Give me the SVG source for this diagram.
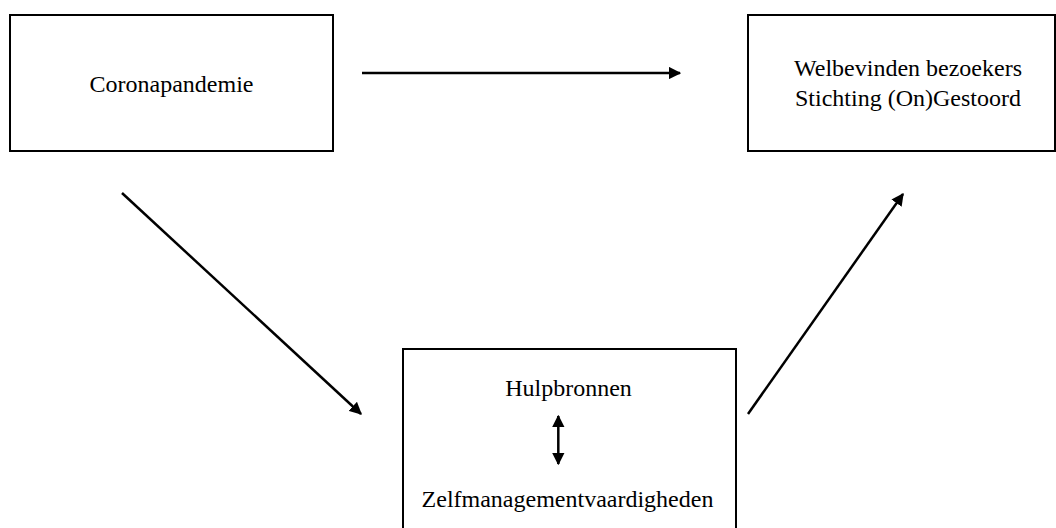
<svg xmlns="http://www.w3.org/2000/svg" width="1056" height="528" viewBox="0 0 1056 528">
<defs>
<style>
.box{fill:#fff;stroke:#000;stroke-width:2}
.lbl{font-family:"Liberation Serif","Times New Roman",serif;font-size:24px;fill:#000;text-anchor:middle}
.con{stroke:#000;stroke-width:2.5;fill:none}
</style>
<marker id="ah" viewBox="0 0 10 10" refX="9" refY="5" markerWidth="5" markerHeight="5" markerUnits="strokeWidth" orient="auto-start-reverse">
<path d="M0,0 L10,5 L0,10 z" fill="#000"/>
</marker>
</defs>
<rect width="1056" height="528" fill="#fff"/>
<g id="node-corona">
<rect class="box" x="10" y="15" width="323" height="136"/>
<text class="lbl" x="171.5" y="92">Coronapandemie</text>
</g>
<g id="node-welbevinden">
<rect class="box" x="748" y="15" width="307" height="136"/>
<text class="lbl" x="908" y="76">Welbevinden bezoekers</text>
<text class="lbl" x="908" y="106">Stichting (On)Gestoord</text>
</g>
<g id="node-hulpbronnen">
<rect class="box" x="403" y="349" width="333" height="190"/>
<text class="lbl" x="568.5" y="396">Hulpbronnen</text>
<text class="lbl" x="567.5" y="507">Zelfmanagementvaardigheden</text>
</g>
<g id="connectors">
<line class="con" x1="362" y1="73" x2="680" y2="73" marker-end="url(#ah)"/>
<line class="con" x1="122" y1="193" x2="361" y2="414" marker-end="url(#ah)"/>
<line class="con" x1="748" y1="414" x2="903" y2="194" marker-end="url(#ah)"/>
<line class="con" x1="558.3" y1="416" x2="558.3" y2="464" marker-start="url(#ah)" marker-end="url(#ah)"/>
</g>
</svg>
